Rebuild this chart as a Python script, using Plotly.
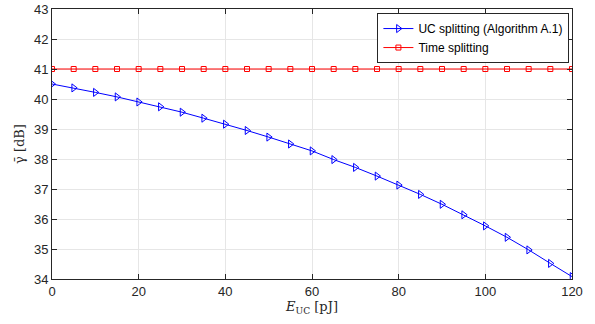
import plotly.graph_objects as go

e_uc = [0, 5, 10, 15, 20, 25, 30, 35, 40, 45, 50, 55, 60, 65, 70, 75, 80, 85, 90, 95, 100, 105, 110, 115, 120]
uc_split = [40.50, 40.37, 40.22, 40.07, 39.90, 39.74, 39.56, 39.36, 39.16, 38.95, 38.73, 38.50, 38.27, 37.98,
            37.72, 37.43, 37.13, 36.82, 36.49, 36.14, 35.77, 35.39, 34.97, 34.52, 34.08]
time_split = [41.0] * len(e_uc)

x_ticks = [0, 20, 40, 60, 80, 100, 120]
y_ticks = [34, 35, 36, 37, 38, 39, 40, 41, 42, 43]

fig = go.Figure()
fig.add_trace(go.Scatter(
    x=e_uc, y=uc_split, mode="lines+markers", name="UC splitting (Algorithm A.1)",
    line=dict(color="#0000ff", width=1),
    marker=dict(symbol="triangle-right-open", size=7, color="#0000ff", line=dict(width=1)),
))
fig.add_trace(go.Scatter(
    x=e_uc, y=time_split, mode="lines+markers", name="Time splitting",
    line=dict(color="#ff0000", width=1),
    marker=dict(symbol="square-open", size=5, color="#ff0000", line=dict(width=1)),
))

axis_common = dict(
    showline=True, linecolor="#262626", linewidth=1, mirror="ticks",
    ticks="inside", ticklen=5, tickcolor="#262626", tickwidth=1,
    showgrid=True, gridcolor="#e6e6e6", gridwidth=1, zeroline=False,
    automargin=False,
    tickfont=dict(family="Liberation Sans, Arial", size=13, color="#262626"),
)

fig.update_layout(
    width=595, height=324,
    paper_bgcolor="white", plot_bgcolor="white",
    margin=dict(l=52, r=23, t=9, b=45, autoexpand=False),
    showlegend=True,
    legend=dict(
        x=0.995, y=0.985, xanchor="right", yanchor="top",
        bgcolor="white", bordercolor="#262626", borderwidth=1,
        font=dict(family="Liberation Sans, Arial", size=12, color="#000000"),
        tracegroupgap=0, itemwidth=30,
    ),
    xaxis=dict(
        range=[0, 120], tickvals=x_ticks,
        title=dict(text="<i>E</i><sub>UC</sub> [pJ]", standoff=4,
                   font=dict(family="DejaVu Serif", size=13, color="#262626")),
        **axis_common,
    ),
    yaxis=dict(
        range=[34, 43], tickvals=y_ticks,
        title=dict(text="γ\u0304 [dB]", standoff=6,
                   font=dict(family="DejaVu Serif", size=13, color="#262626")),
        **axis_common,
    ),
)

fig.write_html("out.html", config={"displayModeBar": False},
               post_script="document.body.style.margin='0px';")
